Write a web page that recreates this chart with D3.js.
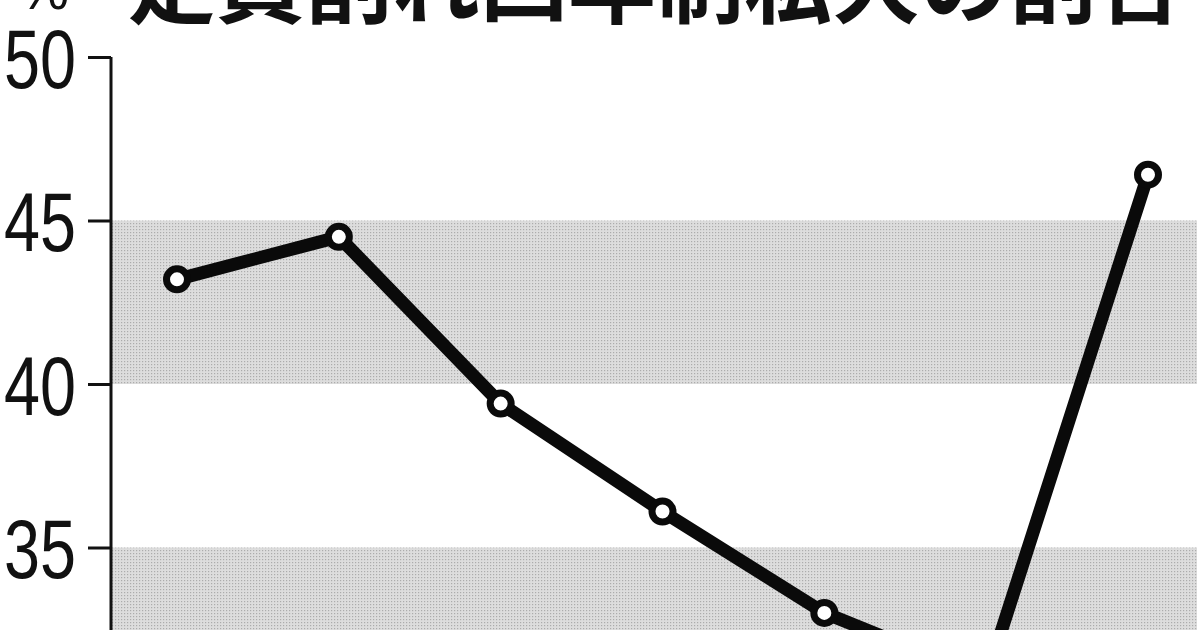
<!DOCTYPE html>
<meta charset="utf-8">
<script src="https://d3js.org/d3.v7.min.js"></script>
<style>
  body { margin: 0; background: #fff; }
  svg { display: block; }
</style>
<div id="chart"></div>
<script>
// 定員割れ四年制私大の割合 (%)
var years  = ["2015", "2016", "2017", "2018", "2019", "2020", "2021"];
var shares = [43.2, 44.5, 39.4, 36.1, 33.0, 31.0, 46.4];
var yTicks = [30, 35, 40, 45, 50];
var bands  = [[40, 45], [30, 35]];
var title  = "定員割れ四年制私大の割合";

var W = 1200, H = 630;

var svg = d3.select("#chart").append("svg")
  .attr("width", W)
  .attr("height", H);

// fine dot screen for the shaded bands
var pat = svg.append("defs").append("pattern")
  .attr("id", "screen")
  .attr("patternUnits", "userSpaceOnUse")
  .attr("width", 3).attr("height", 3);
pat.append("rect").attr("width", 3).attr("height", 3).attr("fill", "#dddddd");
pat.append("rect").attr("x", 1).attr("y", 1).attr("width", 1.2).attr("height", 1.2).attr("fill", "#acacac");

var x = d3.scalePoint()
  .domain(years)
  .range([177, 1148]);

var y = d3.scaleLinear()
  .domain([30, 50])
  .range([711, 57]);

var axisX = 111;

// shaded bands
svg.selectAll(".band")
  .data(bands)
  .enter().append("rect")
    .attr("class", "band")
    .attr("x", axisX + 1)
    .attr("width", 1197 - axisX - 1)
    .attr("y", function(d) { return y(d[1]); })
    .attr("height", function(d) { return y(d[0]) - y(d[1]); })
    .attr("fill", "url(#screen)");

// y axis
var gy = svg.append("g")
  .attr("transform", "translate(" + axisX + ",0)")
  .call(d3.axisLeft(y).tickValues(yTicks).tickSize(23).tickSizeOuter(0).tickPadding(12));
gy.select(".domain")
  .attr("d", "M0," + y(50) + "V" + H)
  .attr("stroke", "#111").attr("stroke-width", 3);
gy.selectAll(".tick line").attr("stroke", "#111").attr("stroke-width", 3);
gy.selectAll(".tick text")
  .style("font-family", "'Liberation Sans', Arial, sans-serif")
  .style("font-size", "84px")
  .attr("fill", "#111")
  .attr("dy", "0.36em")
  .attr("textLength", 72)
  .attr("lengthAdjust", "spacingAndGlyphs");

// x axis (falls below the visible frame)
svg.append("g")
  .attr("transform", "translate(0," + y(30) + ")")
  .call(d3.axisBottom(x).tickSize(0))
  .selectAll("text")
    .style("font-size", "40px");

// % unit and title (both run off the top edge, as in the source)
svg.append("text")
  .attr("x", 19).attr("y", 9)
  .attr("textLength", 50)
  .attr("lengthAdjust", "spacingAndGlyphs")
  .style("font-family", "'Liberation Sans', Arial, sans-serif")
  .style("font-size", "60px")
  .attr("fill", "#111")
  .text("%");

svg.append("text")
  .attr("x", 128).attr("y", 16)
  .attr("textLength", 1056)
  .attr("lengthAdjust", "spacingAndGlyphs")
  .style("font-family", "'Noto Sans CJK JP', sans-serif")
  .style("font-weight", "700")
  .style("font-size", "88px")
  .attr("fill", "#111")
  .text(title);

// line
var line = d3.line()
  .x(function(d, i) { return x(years[i]); })
  .y(function(d) { return y(d); });

svg.append("path")
  .datum(shares)
  .attr("d", line)
  .attr("fill", "none")
  .attr("stroke", "#0a0a0a")
  .attr("stroke-width", 13)
  .attr("stroke-linejoin", "round");

svg.selectAll(".dot")
  .data(shares)
  .enter().append("circle")
    .attr("class", "dot")
    .attr("cx", function(d, i) { return x(years[i]); })
    .attr("cy", function(d) { return y(d); })
    .attr("r", 10.5)
    .attr("fill", "#fff")
    .attr("stroke", "#0a0a0a")
    .attr("stroke-width", 7);
</script>
